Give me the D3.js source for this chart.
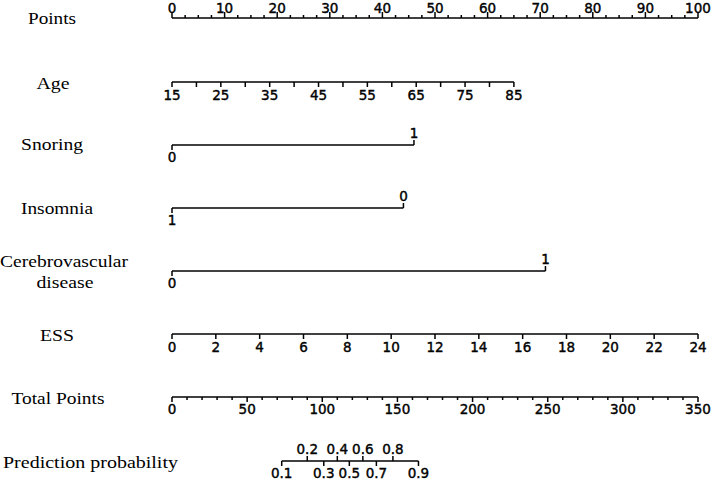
<!DOCTYPE html>
<html><head><meta charset="utf-8">
<script src="https://cdn.jsdelivr.net/npm/d3@7"></script>
<style>body{margin:0;background:#fff}</style>
</head><body>
<svg id="c" width="714" height="480"></svg>
<script>
// ---- data ----
const rowNames = ["Points","Age","Snoring","Insomnia","Cerebrovascular","disease","ESS","Total Points","Prediction probability"];
const pointsTicks = [0,10,20,30,40,50,60,70,80,90,100];
const pointsMinorStep = 2.5;
const ageTicks = [15,20,25,30,35,40,45,50,55,60,65,70,75,80,85];
const ageLabels = [15,25,35,45,55,65,75,85];
const ageRange = [15,85];
const agePoints = [0,65];
const snoringLevels = ["0","1"];
const snoringPoints = [0,46];
const insomniaLevels = ["1","0"];
const insomniaPoints = [0,44];
const cvdLevels = ["0","1"];
const cvdPoints = [0,71];
const essTicks = [0,2,4,6,8,10,12,14,16,18,20,22,24];
const essRange = [0,24];
const essPoints = [0,100];
const totalTicks = [0,50,100,150,200,250,300,350];
const totalMinorStep = 10;
const probTicks = [0.1,0.2,0.3,0.4,0.5,0.6,0.7,0.8,0.9];
const probTotalPoints = [73,90,101,110,118,127,136,147,164];

// ---- layout ----
const svg = d3.select("#c");
const X0 = 172, X1 = 698;
const xPts = d3.scaleLinear().domain([0,100]).range([X0,X1]);
const xTot = d3.scaleLinear().domain([0,350]).range([X0,X1]);
const rowY = {points:18, age:82, snoring:145, insomnia:208, cvd:271, ess:334, total:397, prob:461};
const tickFont = "'DejaVu Sans', sans-serif";
const labelFont = "'Liberation Serif', 'Times New Roman', serif";
const SW = 1.5;

// row titles: position and rendered width
const titleLayout = [
  {x:52, y:18, w:48, a:"middle"},
  {x:53, y:83, w:33, a:"middle"},
  {x:52, y:144, w:62, a:"middle"},
  {x:57, y:208, w:72, a:"middle"},
  {x:64, y:261, w:128, a:"middle"},
  {x:65, y:282, w:57, a:"middle"},
  {x:57, y:335, w:34, a:"middle"},
  {x:58, y:398, w:93, a:"middle"},
  {x:3, y:462, w:175, a:"start"}
];
svg.selectAll("text.title").data(rowNames).join("text")
  .attr("class","title")
  .attr("x",(d,i)=>titleLayout[i].x).attr("y",(d,i)=>titleLayout[i].y).attr("dy","0.35em")
  .attr("text-anchor",(d,i)=>titleLayout[i].a)
  .attr("textLength",(d,i)=>titleLayout[i].w).attr("lengthAdjust","spacingAndGlyphs")
  .attr("font-family",labelFont).attr("font-size",17).attr("fill","#000")
  .text(d=>d);

function hline(y,x1,x2){
  svg.append("line").attr("x1",x1).attr("x2",x2).attr("y1",y).attr("y2",y)
    .attr("stroke","#000").attr("stroke-width",SW);
}
function ticks(y,xs,len){
  svg.append("g").selectAll("line").data(xs).join("line")
    .attr("x1",d=>d).attr("x2",d=>d).attr("y1",y).attr("y2",y+len)
    .attr("stroke","#000").attr("stroke-width",SW);
}
function labels(y,items){
  svg.append("g").selectAll("text").data(items).join("text")
    .attr("x",d=>d.x).attr("y",y).attr("dy","0.35em").attr("text-anchor","middle")
    .attr("font-family",tickFont).attr("font-size",13.5).attr("fill","#000")
    .attr("stroke","#000").attr("stroke-width",0.4)
    .text(d=>d.t);
}

// Points
{
  const y = rowY.points;
  hline(y, xPts(0), xPts(100));
  const minor = d3.range(0,100+1e-9,pointsMinorStep).filter(v=>!pointsTicks.includes(v));
  ticks(y, pointsTicks.map(xPts), -6);
  ticks(y, minor.map(xPts), -3);
  labels(y-10, pointsTicks.map(v=>({x:xPts(v), t:v})));
}
// Age
{
  const y = rowY.age;
  const s = d3.scaleLinear().domain(ageRange).range(agePoints);
  hline(y, xPts(s(ageRange[0])), xPts(s(ageRange[1])));
  ticks(y, ageTicks.map(v=>xPts(s(v))), 5);
  labels(y+13, ageLabels.map(v=>({x:xPts(s(v)), t:v})));
}
// binary rows
function binary(y, levels, pts){
  const xs = pts.map(xPts);
  hline(y, d3.min(xs), d3.max(xs));
  ticks(y, [xs[0]], 5);
  ticks(y, [xs[1]], -5);
  labels(y+12, [{x:xs[0], t:levels[0]}]);
  labels(y-12, [{x:xs[1], t:levels[1]}]);
}
binary(rowY.snoring, snoringLevels, snoringPoints);
binary(rowY.insomnia, insomniaLevels, insomniaPoints);
binary(rowY.cvd, cvdLevels, cvdPoints);
// ESS
{
  const y = rowY.ess;
  const s = d3.scaleLinear().domain(essRange).range(essPoints);
  hline(y, xPts(s(essRange[0])), xPts(s(essRange[1])));
  ticks(y, essTicks.map(v=>xPts(s(v))), 5);
  labels(y+13, essTicks.map(v=>({x:xPts(s(v)), t:v})));
}
// Total points
{
  const y = rowY.total;
  hline(y, xTot(0), xTot(350));
  const minor = d3.range(0,350+1e-9,totalMinorStep).filter(v=>!totalTicks.includes(v));
  ticks(y, totalTicks.map(xTot), 5);
  ticks(y, minor.map(xTot), 3);
  labels(y+12, totalTicks.map(v=>({x:xTot(v), t:v})));
}
// Prediction probability
{
  const y = rowY.prob;
  const xs = probTotalPoints.map(xTot);
  hline(y, d3.min(xs), d3.max(xs));
  const all = probTicks.map((p,i)=>({p,x:xs[i]}));
  const up = all.filter((d,i)=>i%2===1);
  const dn = all.filter((d,i)=>i%2===0);
  ticks(y, up.map(d=>d.x), -5);
  ticks(y, dn.map(d=>d.x), 5);
  labels(y-12, up.map(d=>({x:d.x, t:d3.format(".1f")(d.p)})));
  labels(y+12, dn.map(d=>({x:d.x, t:d3.format(".1f")(d.p)})));
}
</script>
</body></html>
